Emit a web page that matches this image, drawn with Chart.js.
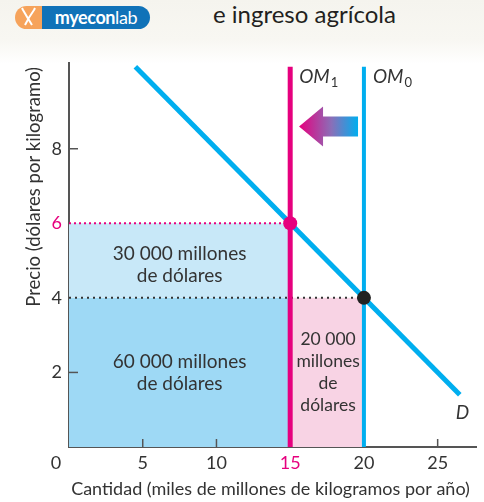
<!DOCTYPE html>
<html lang="es">
<head>
<meta charset="utf-8">
<script src="https://cdn.jsdelivr.net/npm/chart.js@4.4.1/dist/chart.umd.min.js"></script>
<style>
  html, body { margin: 0; padding: 0; }
  body {
    width: 484px; height: 502px; overflow: hidden; position: relative;
    background: linear-gradient(to bottom, #f5f4ee 0px, #f8f7f2 40px, #ffffff 64px);
    font-family: Lato, "Noto Sans", sans-serif;
  }
  #logo { position: absolute; left: 15px; top: 6px; height: 23px; display: flex; }
  #logo .icon { width: 27px; height: 23px; background: #f6a35b; border-radius: 12px 0 0 12px; }
  #logo .name {
    width: 108px; height: 23px; background: #1072b8; border-radius: 0 12px 12px 0;
    color: #fff; font-size: 18px; line-height: 23px; text-align: center; letter-spacing: -0.4px;
  }
  #title { position: absolute; left: 213px; top: -1px; font-size: 24px; color: #231f20; }
  canvas { position: absolute; left: 0; top: 0; }
</style>
</head>
<body>
<div id="logo">
  <div class="icon">
    <svg width="27" height="23" viewBox="0 0 27 23">
      <path d="M8 4 Q12 11 17 19 M19 4 Q14 11 10 19 M8 4 L7 2 M19 4 L20 2" stroke="#fff" stroke-width="2" fill="none"/>
    </svg>
  </div>
  <div class="name"><b>myecon</b>lab</div>
</div>
<div id="title">e ingreso agrícola</div>
<canvas id="chart" width="484" height="502"></canvas>
<script>
// ===============================
// DATA
// ===============================
const xTicks = [5, 10, 15, 20, 25]
const yTicks = [2, 4, 6, 8]
const xTickMarks = [5, 10, 25]
const yTickMarks = [2, 8]
const X_MAX = 27.6
const Y_MAX = 10.3

const demandQ = [4.5, 26.5]
const demandP = [10.2, 1.4]

const supplyOld = 20      // OM0
const supplyNew = 15      // OM1
const supplyTop = 10.2
const priceOld = 4
const priceNew = 6

const arrowFrom = [19.6, 8.6]
const arrowTo = [15.6, 8.6]

const yTitle = "Precio (dólares por kilogramo)"
const xTitle = "Cantidad (miles de millones de kilogramos por año)"

const areaLabels = [
  ["30 000 millones", "de dólares"],
  ["60 000 millones", "de dólares"],
  ["20 000", "millones", "de", "dólares"]
]

const MAGENTA = "#e6007e"
const CYAN = "#00aeef"
const TEXT = "#333333"
const FONT = "Lato, 'Noto Sans', sans-serif"

// ===============================
// OVERLAY (labels, ticks, arrow)
// ===============================
const overlay = {
  id: "overlay",
  afterDatasetsDraw(chart) {
    const c = chart.ctx
    const x = chart.scales.x
    const y = chart.scales.y
    const px = v => x.getPixelForValue(v)
    const py = v => y.getPixelForValue(v)

    c.save()

    // inward tick marks
    c.strokeStyle = "#555"
    c.lineWidth = 1.5
    xTickMarks.forEach(v => {
      c.beginPath(); c.moveTo(px(v), py(0)); c.lineTo(px(v), py(0) - 8); c.stroke()
    })
    yTickMarks.forEach(v => {
      c.beginPath(); c.moveTo(px(0), py(v)); c.lineTo(px(0) + 9, py(v)); c.stroke()
    })

    // origin label
    c.fillStyle = TEXT
    c.font = "18px " + FONT
    c.textAlign = "center"
    c.textBaseline = "middle"
    c.fillText("0", px(0) - 13, py(0) + 16)

    // axis titles
    c.font = "18px " + FONT
    c.fillText(xTitle, (chart.chartArea.left + chart.chartArea.right) / 2 - 2, 489)
    c.font = "18.5px " + FONT
    c.save()
    c.translate(34, py(Y_MAX) + 4)
    c.rotate(-Math.PI / 2)
    c.textAlign = "right"
    c.fillText(yTitle, 0, 0)
    c.restore()

    // area labels
    const drawLines = (lines, cx, cy) => {
      const lh = 22
      lines.forEach((t, i) => c.fillText(t, cx, cy + (i - (lines.length - 1) / 2) * lh))
    }
    c.font = "19px " + FONT
    drawLines(areaLabels[0], px(supplyNew / 2), py((priceOld + priceNew) / 2) + 4)
    drawLines(areaLabels[1], px(supplyNew / 2), py(priceOld / 2))
    c.font = "17.5px " + FONT
    drawLines(areaLabels[2], px((supplyNew + supplyOld) / 2) + 1, py(priceOld / 2))

    // curve labels
    const omLabel = (v, sub) => {
      c.textAlign = "left"
      c.font = "italic 19px " + FONT
      const lx = px(v) + 9
      const ly = py(supplyTop) + 10
      c.fillText("OM", lx, ly)
      const w = c.measureText("OM").width
      c.font = "13px " + FONT
      c.fillText(sub, lx + w + 1, ly + 6)
    }
    omLabel(supplyNew, "1")
    omLabel(supplyOld, "0")
    c.font = "italic 19px " + FONT
    c.textAlign = "left"
    c.fillText("D", px(demandQ[1]) - 4, py(demandP[1]) + 18)

    // shift arrow
    const tipX = px(arrowTo[0]), tailX = px(arrowFrom[0]), ay = py(arrowTo[1])
    const grad = c.createLinearGradient(tipX, 0, tailX, 0)
    grad.addColorStop(0, MAGENTA)
    grad.addColorStop(0.55, "#8a6fb8")
    grad.addColorStop(1, CYAN)
    c.fillStyle = grad
    c.beginPath()
    c.moveTo(tipX, ay)
    c.lineTo(tipX + 24, ay - 20)
    c.lineTo(tipX + 24, ay - 10)
    c.lineTo(tailX, ay - 10)
    c.lineTo(tailX, ay + 10)
    c.lineTo(tipX + 24, ay + 10)
    c.lineTo(tipX + 24, ay + 20)
    c.closePath()
    c.fill()

    c.restore()
  }
}

// ===============================
// DATASETS
// ===============================
const seg = (x0, y0, x1, y1) => [{ x: x0, y: y0 }, { x: x1, y: y1 }]

const datasets = [
  { data: [{ x: supplyNew, y: priceNew }], showLine: false, pointRadius: 7, pointBackgroundColor: MAGENTA, pointBorderWidth: 0, order: 0 },
  { data: [{ x: supplyOld, y: priceOld }], showLine: false, pointRadius: 7, pointBackgroundColor: "#222", pointBorderWidth: 0, order: 0 },
  { data: seg(demandQ[0], demandP[0], demandQ[1], demandP[1]), borderColor: CYAN, borderWidth: 5, pointRadius: 0, order: 1 },
  { data: seg(supplyNew, 0, supplyNew, supplyTop), borderColor: MAGENTA, borderWidth: 5, pointRadius: 0, order: 2 },
  { data: seg(supplyOld, 0, supplyOld, supplyTop), borderColor: CYAN, borderWidth: 4, pointRadius: 0, order: 2 },
  { data: seg(0, priceNew, supplyNew, priceNew), borderColor: MAGENTA, borderWidth: 2, borderDash: [2, 3], pointRadius: 0, order: 3 },
  { data: seg(0, priceOld, supplyOld, priceOld), borderColor: "#333", borderWidth: 2, borderDash: [2, 4], pointRadius: 0, order: 3 },
  { data: seg(0, priceNew, supplyNew, priceNew), borderWidth: 0, pointRadius: 0, fill: { value: priceOld }, backgroundColor: "#c8e8f8", order: 5 },
  { data: seg(0, priceOld, supplyNew, priceOld), borderWidth: 0, pointRadius: 0, fill: "origin", backgroundColor: "#9ed9f5", order: 5 },
  { data: seg(supplyNew, priceOld, supplyOld, priceOld), borderWidth: 0, pointRadius: 0, fill: "origin", backgroundColor: "#f8d3e4", order: 5 }
]

// ===============================
// CHART
// ===============================
const ctx = document.getElementById("chart").getContext("2d")

new Chart(ctx, {
  type: "line",
  data: { datasets },
  options: {
    responsive: false,
    animation: false,
    layout: { padding: { left: 0, right: 8, top: 63, bottom: 0 } },
    plugins: { legend: { display: false }, tooltip: { enabled: false } },
    scales: {
      x: {
        type: "linear", min: 0, max: X_MAX,
        afterFit: s => { s.height = 55 },
        afterBuildTicks: s => { s.ticks = xTicks.map(v => ({ value: v })) },
        grid: { display: true, drawOnChartArea: false, drawTicks: false },
        border: { color: "#555", width: 2 },
        ticks: {
          padding: 5,
          font: { family: FONT, size: 18 },
          color: c => (c.tick && c.tick.value === supplyNew ? MAGENTA : TEXT)
        }
      },
      y: {
        type: "linear", min: 0, max: Y_MAX,
        afterFit: s => { s.width = 69 },
        afterBuildTicks: s => { s.ticks = yTicks.map(v => ({ value: v })) },
        grid: { display: true, drawOnChartArea: false, drawTicks: false },
        border: { color: "#555", width: 2 },
        ticks: {
          padding: 7,
          font: { family: FONT, size: 18 },
          color: c => (c.tick && c.tick.value === priceNew ? MAGENTA : TEXT)
        }
      }
    }
  },
  plugins: [overlay]
})
</script>
</body>
</html>
